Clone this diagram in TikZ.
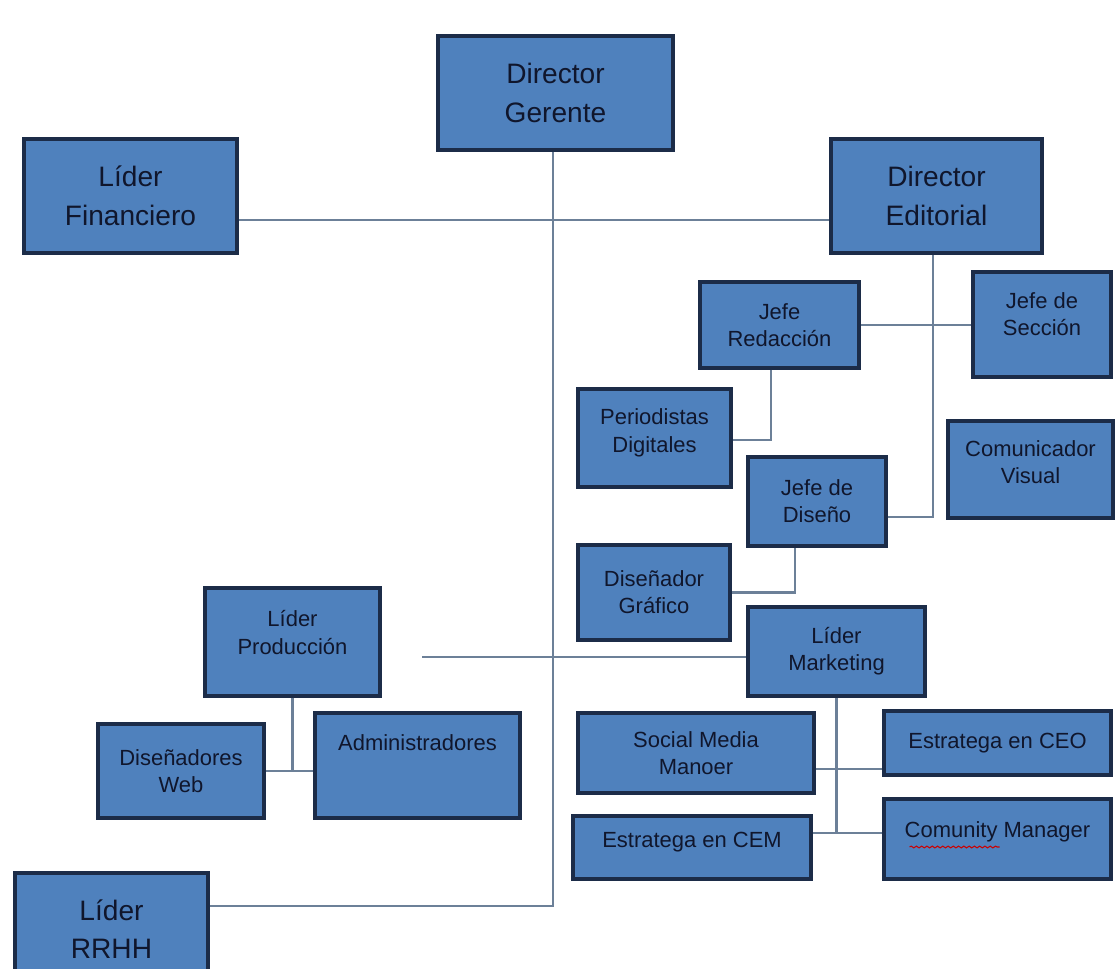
\documentclass[tikz,border=0pt]{standalone}
\usepackage{fontspec}
\setmainfont{Liberation Sans}
\usetikzlibrary{calc,decorations.pathmorphing}
\definecolor{boxfill}{RGB}{79,129,189}
\definecolor{boxborder}{RGB}{28,44,72}
\definecolor{textcol}{RGB}{16,22,44}
\definecolor{linecol}{RGB}{108,128,152}
\newcommand{\orgbox}[7]{%
  \node[box,#6,minimum width={(#4-#2)*0.02cm},minimum height={(#5-#3)*0.02cm}] (#1) at ({(#2+#4)/2},{(#3+#5)/2}) {#7};}
\tikzset{
  box/.style={draw=boxborder,fill=boxfill,line width=2.2pt,inner sep=0pt,align=center,text=textcol},
  big/.style={font=\fontsize{16}{22}\selectfont},
  med/.style={font=\fontsize{12.5}{15.5}\selectfont},
  lift/.style={text depth=#1},
  conn/.style={draw=linecol,line width=1.2pt},
}
\begin{document}
\begin{tikzpicture}[x=0.02cm,y=-0.02cm]
\fill[white] (0,0) rectangle (1115,969);
\clip (0,0) rectangle (1115,969);
\orgbox{gerente}{438}{36}{673}{150}{big}{Director\\Gerente}
\orgbox{fin}{24}{139}{237}{253}{big}{Líder\\Financiero}
\orgbox{edit}{831}{139}{1042}{253}{big}{Director\\Editorial}
\orgbox{redac}{700}{282}{859}{368}{med}{Jefe\\Redacción}
\orgbox{secc}{973}{272}{1111}{377}{med,lift=12pt}{Jefe de\\Sección}
\orgbox{period}{578}{389}{731}{487}{med,lift=8.5pt}{Periodistas\\Digitales}
\orgbox{comvis}{948}{421}{1113}{518}{med,lift=8.5pt}{Comunicador\\Visual}
\orgbox{diseno}{748}{457}{886}{546}{med}{Jefe de\\Diseño}
\orgbox{graf}{578}{545}{730}{640}{med}{Diseñador\\Gráfico}
\orgbox{prod}{205}{588}{380}{696}{med,lift=11pt}{Líder\\Producción}
\orgbox{mkt}{748}{607}{925}{696}{med}{Líder\\Marketing}
\orgbox{web}{98}{724}{264}{818}{med}{Diseñadores\\Web}
\orgbox{admin}{315}{713}{520}{818}{med,lift=26pt}{Administradores}
\orgbox{social}{578}{713}{814}{793}{med}{Social Media\\Manoer}
\orgbox{ceo}{884}{711}{1111}{775}{med}{Estratega en CEO}
\orgbox{cem}{573}{816}{811}{879}{med,lift=8.5pt}{Estratega en CEM}
\orgbox{com}{884}{799}{1111}{879}{med,lift=11pt}{Comunity Manager}
\orgbox{rrhh}{15}{873}{208}{985}{big}{Líder\\RRHH}
% connectors
\draw[conn] ([xshift=-0.05cm]gerente.south) |- ([yshift=0.46cm]rrhh.east);
\draw[conn] ([yshift=-0.48cm]fin.east) -- ([yshift=-0.48cm]edit.west);
\draw[conn] ([xshift=-0.07cm]edit.south) |- ([yshift=-0.31cm]diseno.east);
\draw[conn] (redac.east) -- (secc.west |- redac.east);
\draw[conn] ([xshift=-0.17cm]redac.south) |- ([yshift=-0.04cm]period.east);
\draw[conn] ([xshift=-0.44cm]diseno.south) |- (graf.east);
\coordinate (pm) at (422,657);
\draw[conn] (pm) -- (pm -| mkt.west);
\coordinate (pj) at (prod.south |- web.east);
\draw[conn] (prod.south) -- (pj);
\draw[conn] (web.east) -- (web.east -| admin.west);
\coordinate (smy) at (0,769);
\coordinate (cmy) at (0,833);
\draw[conn] (social.east |- smy) -- (ceo.west |- smy);
\draw[conn] (cem.east |- cmy) -- (com.west |- cmy);
\draw[conn] (mkt.south) -- (mkt.south |- cmy);
% spell-check underline
\draw[red!80!black,line width=0.6pt,decorate,decoration={snake,amplitude=0.5pt,segment length=3pt}]
  ($(com.center)+(-88,8)$) -- ($(com.center)+(2,8)$);
\end{tikzpicture}
\end{document}
